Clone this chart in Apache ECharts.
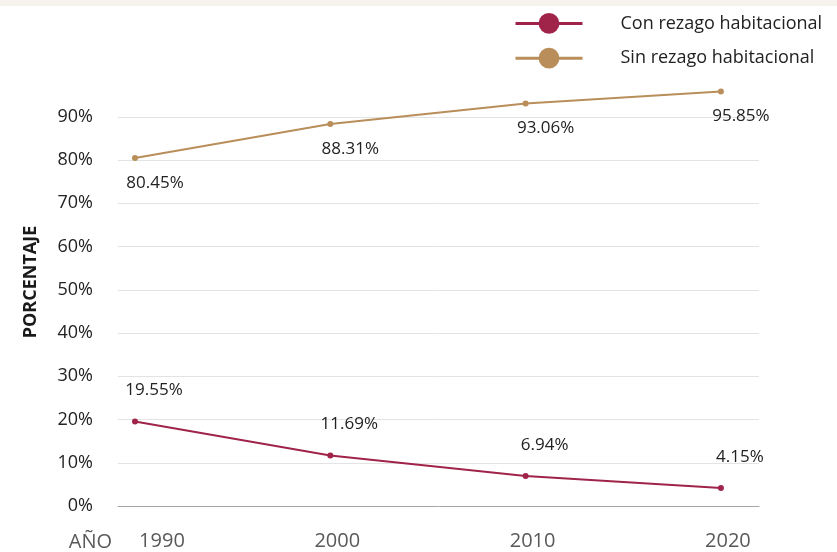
<!DOCTYPE html>
<html>
<head>
<meta charset="utf-8">
<script src="https://cdn.jsdelivr.net/npm/echarts@6/dist/echarts.min.js"></script>
<style>
html,body{margin:0;padding:0;background:#fff;}
#c{width:837px;height:552px;}
</style>
</head>
<body>
<div id="c"></div>
<script>
var years = [1990, 2000, 2010, 2020];
var conRezago = [19.55, 11.69, 6.94, 4.15];
var sinRezago = [80.45, 88.31, 93.06, 95.85];
var seriesNames = ['Con rezago habitacional', 'Sin rezago habitacional'];
var yTicks = [0, 10, 20, 30, 40, 50, 60, 70, 80, 90];

var FONT = '"Open Sans", "Segoe UI", sans-serif';
var chart = echarts.init(document.getElementById('c'), null, {renderer: 'canvas'});

function pairs(vals) { return years.map(function (y, i) { return [y, vals[i]]; }); }

var gridColors = [];
for (var i = 0; i < 10; i++) gridColors.push('#e3e3e3');
gridColors.push('rgba(0,0,0,0)');

chart.setOption({
  backgroundColor: '#ffffff',
  animation: false,
  textStyle: {fontFamily: FONT},
  graphic: [
    {type: 'rect', shape: {x: 0, y: 0, width: 837, height: 6}, style: {fill: '#f6f3ef'}, silent: true},
    {type: 'text', x: 31, y: 282, rotation: Math.PI / 2,
      style: {text: 'PORCENTAJE', fontFamily: FONT, fontSize: 18, fontWeight: 'bold', fill: '#1a1a1a', align: 'center', verticalAlign: 'middle'}},
    {type: 'text', x: 112, y: 542,
      style: {text: 'AÑO', fontFamily: FONT, fontSize: 20, fill: '#595959', align: 'right', verticalAlign: 'middle'}}
  ],
  legend: {
    orient: 'vertical',
    left: 509,
    top: 8,
    itemWidth: 67,
    itemHeight: 26,
    itemGap: 14,
    lineStyle: {width: 3},
    textStyle: {fontFamily: FONT, fontSize: 18, color: '#222', padding: [0, 0, 0, 33]},
    data: seriesNames
  },
  grid: {left: 118, right: 78, top: 73.5, bottom: 46, containLabel: false},
  xAxis: {
    type: 'value',
    min: 1989.13,
    max: 2021.95,
    axisLine: {show: true, lineStyle: {color: '#a6a6a6', width: 1}},
    axisTick: {show: false},
    splitLine: {show: false},
    axisLabel: {
      customValues: years,
      margin: 25,
      fontSize: 20,
      color: '#595959',
      fontFamily: FONT,
      formatter: function (v) { return v === 1990 ? '{f|' + v + '}' : '{o|' + v + '}'; },
      rich: {
        f: {fontSize: 20, color: '#595959', fontFamily: FONT, padding: [0, 0, 0, 54]},
        o: {fontSize: 20, color: '#595959', fontFamily: FONT, padding: [0, 0, 0, 14]}
      }
    }
  },
  yAxis: {
    type: 'value',
    min: 0,
    max: 100,
    interval: 10,
    axisLine: {show: false},
    axisTick: {show: false},
    splitLine: {show: true, lineStyle: {color: gridColors, width: 1}},
    axisLabel: {
      margin: 25,
      fontSize: 18,
      color: '#222',
      fontFamily: FONT,
      padding: [0, 0, 8, 0],
      formatter: function (v) { return yTicks.indexOf(v) >= 0 ? v + '%' : ''; }
    }
  },
  series: [
    {
      name: seriesNames[0],
      type: 'line',
      data: pairs(conRezago),
      symbol: 'circle',
      symbolSize: 6,
      itemStyle: {color: '#a0234a'},
      lineStyle: {color: '#a0234a', width: 2},
      label: {
        show: true, position: 'inside', offset: [19, -31],
        fontSize: 17, color: '#222', fontFamily: FONT,
        formatter: function (p) { return p.value[1].toFixed(2) + '%'; }
      }
    },
    {
      name: seriesNames[1],
      type: 'line',
      data: pairs(sinRezago),
      symbol: 'circle',
      symbolSize: 6,
      itemStyle: {color: '#b98e5a'},
      lineStyle: {color: '#b98e5a', width: 2},
      label: {
        show: true, position: 'inside', offset: [20, 25],
        fontSize: 17, color: '#222', fontFamily: FONT,
        formatter: function (p) { return p.value[1].toFixed(2) + '%'; }
      }
    }
  ]
});
</script>
</body>
</html>
